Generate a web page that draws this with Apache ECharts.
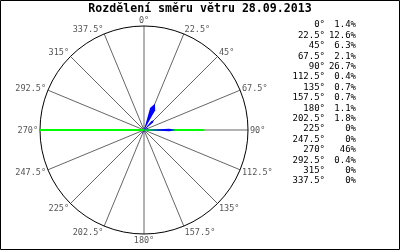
<!DOCTYPE html>
<html><head><meta charset="utf-8">
<script src="https://cdn.jsdelivr.net/npm/echarts@6/dist/echarts.min.js"></script>
<style>html,body{margin:0;padding:0;background:#fff}#c{width:400px;height:250px}</style>
</head><body><div id="c"></div>
<script>
const titleText = 'Rozdělení směru větru 28.09.2013';
const directions = [0,22.5,45,67.5,90,112.5,135,157.5,180,202.5,225,247.5,270,292.5,315,337.5];
const percents = [1.4,12.6,6.3,2.1,26.7,0.4,0.7,0.7,1.1,1.8,0,0,46,0.4,0,0];
const percentLabels = ['1.4%','12.6%','6.3%','2.1%','26.7%','0.4%','0.7%','0.7%','1.1%','1.8%','0%','0%','46%','0.4%','0%','0%'];
const blueWedges = [1.4,12.6,6.3,2.1,14,0.4,0.7,0.7,1.1,1.8,0,0,0,0.4,0,0];
const blueSpread = [6,7,6,6,3,6,6,6,6,6,6,6,6,6,6,6];
const greenLines = [0,0,0,0,26.7,0,0,0,0,0,0,0,46,0,0,0];
const radiusMax = 46;

const chart = echarts.init(document.getElementById('c'), null, {renderer:'canvas'});
const mono = 'DejaVu Sans Mono';

const wedgeData = directions.map((d,i)=>[blueWedges[i], d, blueSpread[i]]).filter(v=>v[0]>0);
const lineData = directions.map((d,i)=>[greenLines[i], d]).filter(v=>v[0]>0);

const rowH = 10.4;
const legendTexts = [];
directions.forEach((d,i)=>{
  legendTexts.push({type:'text',x:325,y:25+rowH*i,style:{text:d+'°',fill:'#000',font:'9px '+mono,align:'right',verticalAlign:'middle'}});
  legendTexts.push({type:'text',x:356,y:25+rowH*i,style:{text:percentLabels[i],fill:'#000',font:'9px '+mono,align:'right',verticalAlign:'middle'}});
});

chart.setOption({
  animation:false,
  backgroundColor:'#fff',
  title:{text:titleText,left:'center',top:3,padding:0,textStyle:{fontFamily:mono,fontSize:11.6,fontWeight:'bold',color:'#000'}},
  polar:{center:[144,130],radius:104},
  angleAxis:{type:'value',min:0,max:360,interval:22.5,startAngle:90,clockwise:true,
    axisLine:{show:true,lineStyle:{color:'#000',width:1}},
    axisTick:{show:false},
    splitLine:{show:true,lineStyle:{color:'#666',width:1}},
    axisLabel:{show:false}
  },
  radiusAxis:{type:'value',min:0,max:radiusMax,axisLine:{show:false},axisTick:{show:false},axisLabel:{show:false},splitLine:{show:false}},
  series:[
    {type:'custom',coordinateSystem:'polar',data:lineData,z:3,
      renderItem:(params,api)=>{
        const r=api.value(0),a=api.value(1);
        const c=api.coord([0,a]);const p=api.coord([r,a]);
        return {type:'line',shape:{x1:c[0],y1:c[1],x2:p[0],y2:p[1]},style:{stroke:'#00ff00',lineWidth:2}};
      }},
    {type:'custom',coordinateSystem:'polar',data:wedgeData,z:4,
      renderItem:(params,api)=>{
        const r=api.value(0),a=api.value(1),s=api.value(2);
        const c=api.coord([0,a]);
        const p1=api.coord([r*0.8,a-s]);const p2=api.coord([r,a]);const p3=api.coord([r*0.8,a+s]);
        return {type:'polygon',shape:{points:[c,p1,p2,p3]},style:{fill:'#0000ff'}};
      }},
    {type:'custom',coordinateSystem:'polar',data:[[0,0]],z:5,clip:false,
      renderItem:(params,api)=>{
        const children = directions.map(a=>{
          const c=api.coord([0,a]);const p=api.coord([radiusMax,a]);
          const R=Math.hypot(p[0]-c[0],p[1]-c[1]);
          const ux=(p[0]-c[0])/R, uy=(p[1]-c[1])/R;
          const x=c[0]+ux*(R+2), y=c[1]+uy*(R+6)+1;
          const align=Math.abs(ux)<0.3?'center':(ux>0?'left':'right');
          return {type:'text',x:x,y:y,style:{text:a+'°',fill:'#555',font:'8.5px '+mono,align:align,verticalAlign:'middle'}};
        });
        return {type:'group',children:children};
      }}
  ]
});
chart.setOption({
  graphic:[
    {type:'rect',shape:{x:0.5,y:0.5,width:399,height:249},style:{fill:'none',stroke:'#000',lineWidth:1},z:10,silent:true}
  ].concat(legendTexts)
});
</script></body></html>
